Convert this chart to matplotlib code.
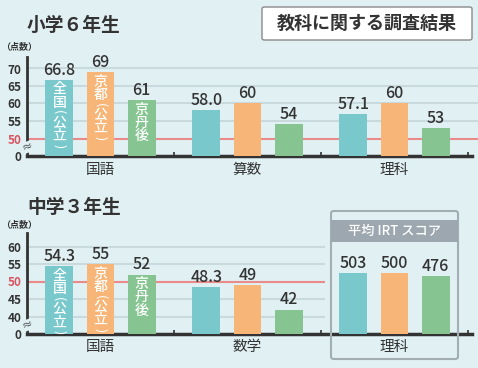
import matplotlib
matplotlib.use("Agg")
from matplotlib import pyplot as plt
from matplotlib.patches import FancyBboxPatch, Rectangle

plt.rcParams["font.family"] = ["Noto Sans CJK JP", "DejaVu Sans"]

# data
group_labels = ["全国（公立）", "京都（公立）", "京丹後"]
colors = ["#79c8cc", "#f7b678", "#86c592"]

elem_subjects = ["国語", "算数", "理科"]
elem_values = [[66.8, 69, 61], [58.0, 60, 54], [57.1, 60, 53]]
elem_labels = [["66.8", "69", "61"], ["58.0", "60", "54"], ["57.1", "60", "53"]]

jr_subjects = ["国語", "数学", "理科"]
jr_values = [[54.3, 55, 52], [48.3, 49, 42]]
jr_labels = [["54.3", "55", "52"], ["48.3", "49", "42"]]
jr_irt = [503, 500, 476]

elem_ticks = [50, 55, 60, 65, 70]
jr_ticks = [40, 45, 50, 55, 60]

BG = "#e0f0f3"
GRID = "#c9dadf"
RED = "#ea8a8a"
DARK = "#333333"
W, H = 478, 368
PX = 3.5  # pixels per score point
IRT_PER_UNIT = 28.7


def fig_rect(x0, y0, x1, y1):
    # pixel box (top-left origin) -> figure fraction
    return [x0 / W, 1 - y1 / H, (x1 - x0) / W, (y1 - y0) / H]


def vertical_text(ax, x, top, text):
    # stack characters downwards, parentheses drawn turned
    cur = top - 3 / PX
    for ch in text:
        if ch in "（）":
            glyph = "(" if ch == "（" else ")"
            ax.text(x, cur - 3.4 / PX, glyph, rotation=-90, ha="center",
                    va="center", fontsize=9, color="white", zorder=4)
            cur -= 6.8 / PX
        else:
            ax.text(x, cur - 6.6 / PX, ch, ha="center", va="center",
                    fontsize=10, color="white", fontweight="medium", zorder=4)
            cur -= 13.2 / PX


fig = plt.figure(figsize=(W / 100, H / 100), dpi=100, facecolor=BG)


def setup_axis(ax, base, top, ticks, grid_end):
    ax.set_facecolor(BG)
    ax.set_xlim(-0.5, -0.5 + (W - 27) / 147)
    ax.set_ylim(base, top)
    for s in ["top", "right"]:
        ax.spines[s].set_visible(False)
    ax.spines["left"].set_color(DARK)
    ax.spines["left"].set_linewidth(2)
    ax.spines["bottom"].set_color(DARK)
    ax.spines["bottom"].set_linewidth(2.5)
    ax.spines["bottom"].set_bounds(-0.5, 2.53)
    for t in ticks:
        ax.hlines(t, -0.5, grid_end, color=RED if t == 50 else GRID,
                  lw=1.5, zorder=1, clip_on=False)
    ax.set_yticks([base] + ticks)
    ax.set_yticklabels(["0"] + [str(t) for t in ticks])
    ax.tick_params(axis="y", length=0, pad=4, labelsize=8.5, labelcolor=DARK)
    for lab in ax.get_yticklabels():
        lab.set_fontweight("bold")
        if lab.get_text() == "50":
            lab.set_color("#d9535f")
    ax.set_xticks([0.5, 1.5, 2.5])
    ax.set_xticklabels([])
    ax.tick_params(axis="x", direction="in", length=3, width=1.2, color=DARK)
    ax.text(-0.5, base + 2.5, "≈", ha="center", va="center", fontsize=8,
            color=DARK, rotation=20, zorder=5,
            bbox=dict(boxstyle="square,pad=0.05", fc=BG, ec="none"))


def draw_group(ax, gi, heights, labels, base, names=False):
    offsets = [-0.28, 0, 0.28]
    for k in range(3):
        x = gi + offsets[k]
        h = heights[k]
        ax.bar(x, h - base, bottom=base, width=0.19, color=colors[k], zorder=3)
        ax.text(x, h + 0.3, labels[k], ha="center", va="bottom",
                fontsize=11.5, color=DARK, fontweight="medium")
        if names:
            vertical_text(ax, x, h, group_labels[k])


# elementary (小学6年生)
ax1 = fig.add_axes(fig_rect(27, 57, W, 156))
setup_axis(ax1, 45, 45 + 99 / PX, elem_ticks, 3.0)
for gi in range(3):
    draw_group(ax1, gi, elem_values[gi], elem_labels[gi], 45, names=(gi == 0))
for gi, s in enumerate(elem_subjects):
    ax1.text(gi, 45 - 14 / PX, s, ha="center", va="center", fontsize=10.5, color=DARK)

# junior high (中学3年生)
ax2 = fig.add_axes(fig_rect(27, 233, W, 334))
setup_axis(ax2, 35, 35 + 101 / PX, jr_ticks, -0.5 + (325 - 27) / 147)
for gi in range(2):
    draw_group(ax2, gi, jr_values[gi], jr_labels[gi], 35, names=(gi == 0))
irt_heights = [35 + v / IRT_PER_UNIT for v in jr_irt]
draw_group(ax2, 2, irt_heights, [str(v) for v in jr_irt], 35)
for gi, s in enumerate(jr_subjects):
    ax2.text(gi, 35 - 13 / PX, s, ha="center", va="center", fontsize=10.5, color=DARK)

# titles
fig.text(27 / W, 1 - 25 / H, "小学６年生", fontsize=13.5, fontweight="bold",
         color=DARK, va="center", ha="left")
fig.text(27 / W, 1 - 208 / H, "中学３年生", fontsize=13.5, fontweight="bold",
         color=DARK, va="center", ha="left")
fig.text(1 / W, 1 - 47 / H, "（点数）", fontsize=6.5, fontweight="bold",
         color=DARK, va="center", ha="left")
fig.text(1 / W, 1 - 225 / H, "（点数）", fontsize=6.5, fontweight="bold",
         color=DARK, va="center", ha="left")

# heading box
x0, y0, x1, y1 = 262 / W, 1 - 40 / H, 472 / W, 1 - 7 / H
fig.patches.append(FancyBboxPatch((x0, y0), x1 - x0, y1 - y0,
                                  boxstyle="round,pad=0,rounding_size=0.005",
                                  transform=fig.transFigure, fc="white",
                                  ec="#8a8a8a", lw=1))
fig.text((x0 + x1) / 2, (y0 + y1) / 2, "教科に関する調査結果", fontsize=13,
         fontweight="bold", color=DARK, ha="center", va="center")

# IRT box
bx0, by0 = 331 / W, 1 - 359 / H
bx1, by1 = 458 / W, 1 - 211 / H
fig.patches.append(FancyBboxPatch((bx0, by0), bx1 - bx0, by1 - by0,
                                  boxstyle="round,pad=0,rounding_size=0.006",
                                  transform=fig.transFigure, fc="none",
                                  ec="#a3adb4", lw=1.5, zorder=10))
fig.patches.append(Rectangle((bx0, 1 - 242 / H), bx1 - bx0, 22 / H,
                             transform=fig.transFigure, fc="#9ca7af",
                             ec="none", zorder=10))
fig.text((bx0 + bx1) / 2, 1 - 231 / H, "平均 IRT スコア", fontsize=9.5,
         fontweight="medium", color="white", ha="center", va="center", zorder=11)

fig.savefig("out.png", dpi=100, facecolor=BG)
